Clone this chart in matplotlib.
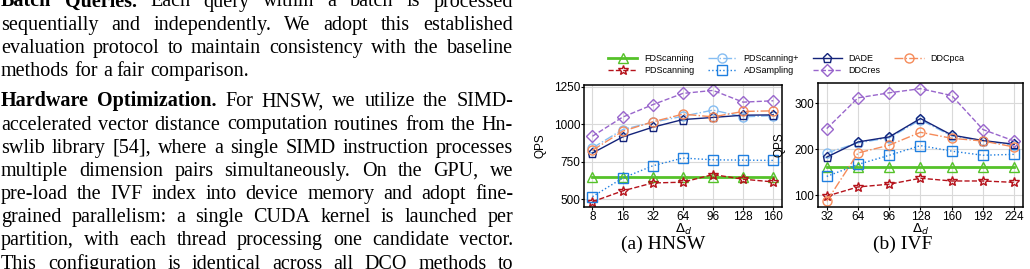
import matplotlib
matplotlib.use('Agg')
import matplotlib.pyplot as plt

W, H = 1030, 269
fig = plt.figure(figsize=(W / 100, H / 100), dpi=100)

# ---------------- data ----------------
methods = ['FDScanning', 'PDScanning', 'PDScanning+', 'ADSampling', 'DADE', 'DDCres', 'DDCpca']

hnsw_x = ['8', '16', '32', '64', '96', '128', '160']
hnsw_fdscanning = [650, 650, 650, 650, 650, 650, 650]
hnsw_pdscanning = [484, 556, 609, 614, 665, 634, 616]
hnsw_pdscanning_plus = [842, 964, 1013, 1053, 1094, 1049, 1057]
hnsw_adsampling = [518, 641, 723, 775, 763, 761, 759]
hnsw_dade = [808, 915, 980, 1031, 1045, 1060, 1062]
hnsw_ddcres = [920, 1047, 1130, 1205, 1225, 1147, 1156]
hnsw_ddcpca = [826, 953, 1016, 1067, 1049, 1085, 1089]

ivf_x = ['32', '64', '96', '128', '160', '192', '224']
ivf_fdscanning = [161, 161, 161, 161, 161, 161, 161]
ivf_pdscanning = [98, 118, 124, 137, 131, 131, 128]
ivf_pdscanning_plus = [192, 214, 225, 264, 229, 219, 209]
ivf_adsampling = [141, 167, 187, 208, 196, 187, 189]
ivf_dade = [183, 216, 227, 267, 231, 219, 211]
ivf_ddcres = [245, 312, 323, 332, 317, 243, 218]
ivf_ddcpca = [87, 192, 209, 237, 224, 218, 205]

hnsw_series = [hnsw_fdscanning, hnsw_pdscanning, hnsw_pdscanning_plus, hnsw_adsampling,
               hnsw_dade, hnsw_ddcres, hnsw_ddcpca]
ivf_series = [ivf_fdscanning, ivf_pdscanning, ivf_pdscanning_plus, ivf_adsampling,
              ivf_dade, ivf_ddcres, ivf_ddcpca]

# ---------------- styles ----------------
styles = {
    'FDScanning':  dict(color='#55c229', ls='-',  marker='^', lw=2.0, ms=6.5),
    'PDScanning':  dict(color='#b5121b', ls='--', marker='*', lw=1.0, ms=7),
    'PDScanning+': dict(color='#85bdf2', ls='-.', marker='o', lw=1.0, ms=6.5),
    'ADSampling':  dict(color='#1f7fe0', ls=':',  marker='s', lw=1.0, ms=6.5),
    'DADE':        dict(color='#13237a', ls='-',  marker='p', lw=1.0, ms=6.5),
    'DDCres':      dict(color='#9966cc', ls='--', marker='D', lw=1.0, ms=6.5),
    'DDCpca':      dict(color='#f58b5a', ls='-.', marker='o', lw=1.0, ms=6.5),
}

CH_FONT = 'Liberation Sans'
TXT_FONT = 'Liberation Serif'
TICK_FS = 8.5


def draw_panel(ax, xlabels, series, ylim, yticks, ylabel_x):
    xs = list(range(len(xlabels)))
    handles = []
    for name, ys in zip(methods, series):
        st = styles[name]
        h, = ax.plot(xs, ys, color=st['color'], linestyle=st['ls'], linewidth=st['lw'],
                     marker=st['marker'], markersize=st['ms'], markerfacecolor='none',
                     markeredgecolor=st['color'], markeredgewidth=1.0, label=name)
        handles.append(h)
    ax.set_xlim(-0.27, len(xlabels) - 1 + 0.29)
    ax.set_ylim(*ylim)
    ax.set_xticks(xs)
    ax.set_xticklabels(xlabels, fontsize=TICK_FS, family=CH_FONT)
    ax.set_yticks(yticks)
    ax.set_yticklabels([str(v) for v in yticks], fontsize=TICK_FS, family=CH_FONT)
    ax.tick_params(length=2, width=0.8, pad=1)
    ax.grid(True, color='#d9d9d9', linewidth=0.8, linestyle='-')
    ax.set_axisbelow(True)
    for sp in ax.spines.values():
        sp.set_linewidth(1.1)
        sp.set_color('black')
    ax.set_xlabel(r'$\Delta_d$', fontsize=9.5, labelpad=-1.0)
    ax.set_ylabel('QPS', fontsize=8.5, family=CH_FONT)
    ax.yaxis.set_label_coords(ylabel_x, 0.5)
    return handles


ax1 = fig.add_axes([584.3 / W, 1 - 206.7 / H, (782 - 584.3) / W, (206.7 - 85.3) / H])
ax2 = fig.add_axes([818.3 / W, 1 - 206.7 / H, (1023.3 - 818.3) / W, (206.7 - 82.7) / H])

handles = draw_panel(ax1, hnsw_x, hnsw_series, (451, 1259), [500, 750, 1000, 1250], -0.19)
draw_panel(ax2, ivf_x, ivf_series, (75, 345), [100, 200, 300], -0.16)

fig.legend(handles, methods, loc='center', bbox_to_anchor=(786 / W, 1 - 64.6 / H), ncol=4,
           frameon=False, prop={'family': CH_FONT, 'size': 6.5}, handlelength=3.3,
           handletextpad=0.7, columnspacing=1.5, labelspacing=0.35, borderpad=0.1)

fig.text(663 / W, 1 - 244 / H, '(a) HNSW', family=TXT_FONT, fontsize=14, ha='center', va='center')
fig.text(903 / W, 1 - 244 / H, '(b) IVF', family=TXT_FONT, fontsize=14, ha='center', va='center')

# ---------------- body text (left column) ----------------
body = [
    ([('Batch Queries.', True), ('Each query within a batch is processed', False)], True),
    ([('sequentially and independently. We adopt this established', False)], True),
    ([('evaluation protocol to maintain consistency with the baseline', False)], True),
    ([('methods for a fair comparison.', False)], False),
    ([('Hardware Optimization.', True), ('For HNSW, we utilize the SIMD-', False)], True),
    ([('accelerated vector distance computation routines from the Hn-', False)], True),
    ([('swlib library [54], where a single SIMD instruction processes', False)], True),
    ([('multiple dimension pairs simultaneously. On the GPU, we', False)], True),
    ([('pre-load the IVF index into device memory and adopt fine-', False)], True),
    ([('grained parallelism: a single CUDA kernel is launched per', False)], True),
    ([('partition, with each thread processing one candidate vector.', False)], True),
    ([('This configuration is identical across all DCO methods to', False)], True),
]
FS = 14.5
X0, X1 = 1.0, 513.0
LS, GAP, Y0 = 23.2, 7.0, 6.5
renderer = fig.canvas.get_renderer()
y = Y0
for i, (tokens, justify) in enumerate(body):
    if i == 4:
        y += GAP
    words = []
    for txt, bold in tokens:
        for w in txt.split():
            words.append((w, bold))
    objs = [fig.text(0, 1 - y / H, w, family=TXT_FONT, fontsize=FS,
                     fontweight='bold' if b else 'normal', va='baseline', ha='left')
            for w, b in words]
    widths = [t.get_window_extent(renderer).width for t in objs]
    if justify and len(objs) > 1:
        gap = (X1 - X0 - sum(widths)) / (len(objs) - 1)
    else:
        gap = 0.25 * FS * 100 / 72
    x = X0
    for t, wd in zip(objs, widths):
        t.set_x(x / W)
        x += wd + gap
    y += LS

fig.savefig('out.png', dpi=100)
